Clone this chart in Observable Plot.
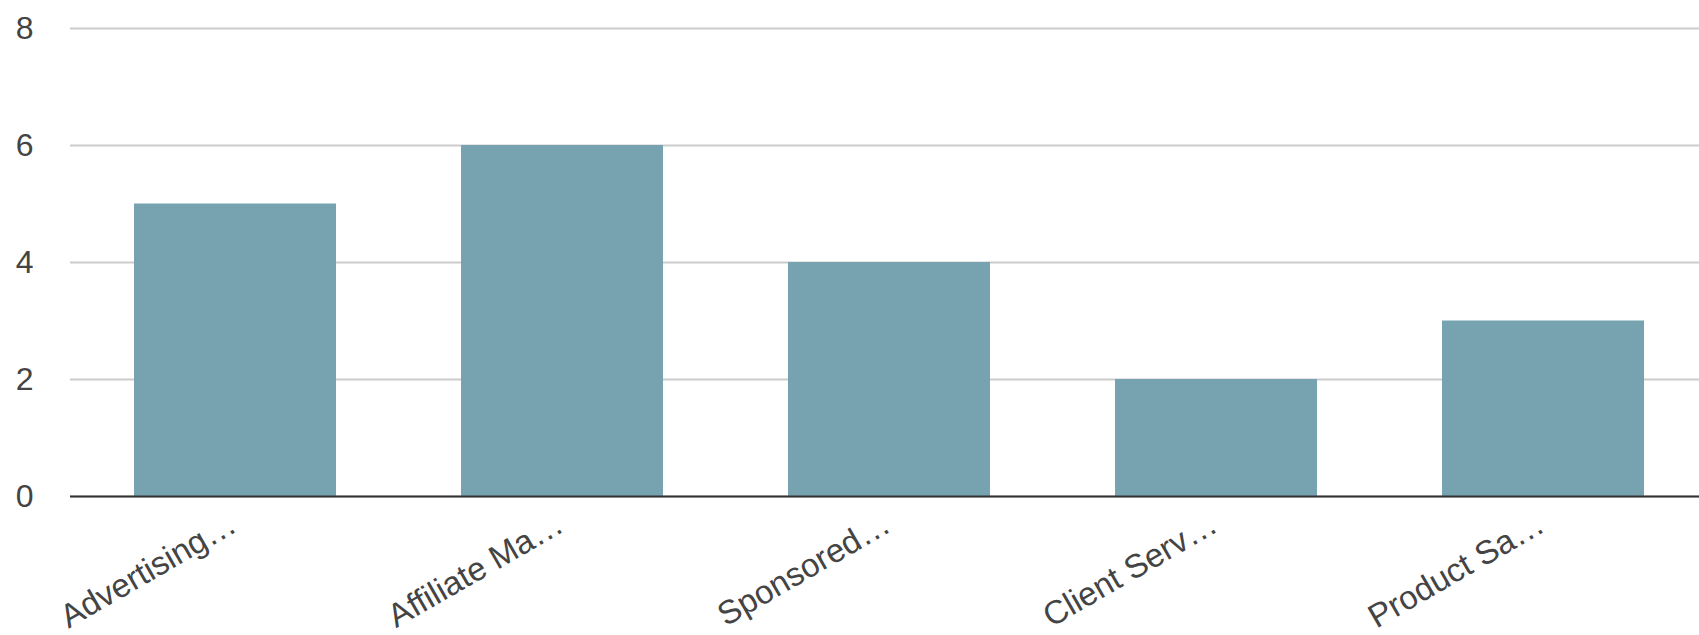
<!DOCTYPE html>
<html><head><meta charset="utf-8">
<script src="https://cdn.jsdelivr.net/npm/d3@7"></script>
<script src="https://cdn.jsdelivr.net/npm/@observablehq/plot@0.6"></script>
<style>html,body{margin:0;padding:0;background:#fff;overflow:hidden}</style>
</head><body><div id="chart"></div>
<script>
const categories = ["Advertising…", "Affiliate Ma…", "Sponsored…", "Client Serv…", "Product Sa…"];
const values = [5, 6, 4, 2, 3];
const yTicks = [0, 2, 4, 6, 8];
const data = categories.map((c, i) => ({category: c, value: values[i]}));
const chart = Plot.plot({
  width: 1699, height: 635,
  marginLeft: 70, marginRight: -9, marginTop: 28, marginBottom: 139,
  style: {fontFamily: "'Liberation Sans', Arial, sans-serif", fontSize: "32px", background: "#fff", color: "#444"},
  x: {domain: categories, paddingInner: 0.383, paddingOuter: 0.1915, axis: null},
  y: {domain: [0, 8], axis: null},
  marks: [
    Plot.gridY(yTicks, {stroke: "#cccccc", strokeOpacity: 1, strokeWidth: 2}),
    Plot.barY(data, {x: "category", y: "value", fill: "#76a3af"}),
    Plot.ruleY([0], {stroke: "#333", strokeWidth: 2}),
    Plot.axisY({ticks: yTicks, tickFormat: d => String(d), label: null, tickSize: 0, tickPadding: 37, fontSize: 32, fill: "#444", textAnchor: "end"}),
    Plot.text(data, {x: "category", text: "category", frameAnchor: "bottom", dy: 34, dx: 3, rotate: -30, textAnchor: "end", lineAnchor: "bottom", fontSize: 33, fill: "#444"})
  ]
});
document.getElementById("chart").appendChild(chart);
</script>
</body></html>
